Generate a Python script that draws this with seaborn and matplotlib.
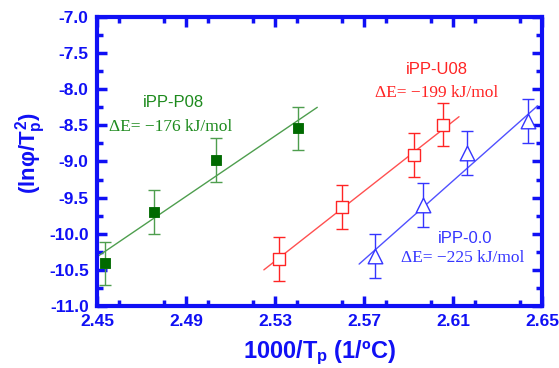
import numpy as np
import pandas as pd
import matplotlib
matplotlib.use("Agg")
import matplotlib.pyplot as plt
import seaborn as sns
from matplotlib.ticker import MultipleLocator

sns.set_style("ticks")
plt.rcParams['font.family'] = ['Liberation Sans', 'DejaVu Sans']
plt.rcParams['mathtext.fontset'] = 'custom'
plt.rcParams['mathtext.rm'] = 'Liberation Sans:bold'
plt.rcParams['mathtext.it'] = 'Liberation Sans:bold'
plt.rcParams['mathtext.bf'] = 'Liberation Sans:bold'

# 数据
p08_x = [2.4535, 2.4755, 2.5035, 2.5405]
p08_y = [-10.41, -9.70, -8.98, -8.54]
u08_x = [2.532, 2.560, 2.5925, 2.6055]
u08_y = [-10.35, -9.63, -8.91, -8.49]
ipp_x = [2.575, 2.5965, 2.6165, 2.6435]
ipp_y = [-10.31, -9.60, -8.88, -8.44]
err = 0.3

# 拟合线端点
p08_fit_x = [2.450, 2.549]
p08_fit_y = [-10.32, -8.25]
u08_fit_x = [2.525, 2.6127]
u08_fit_y = [-10.50, -8.38]
ipp_fit_x = [2.5678, 2.648]
ipp_fit_y = [-10.42, -8.23]

blue = '#1010f5'
green_m = '#006a00'
green_l = '#4e9e4e'
green_t = '#1d8a1d'
red = '#ff2424'
blue_d = '#3535ff'

fig = plt.figure(figsize=(5.59, 3.68), dpi=100)
ax = fig.add_axes([0.1735, 0.1685, 0.7961, 0.7853])

# 拟合线
sns.lineplot(x=p08_fit_x, y=p08_fit_y, color=green_l, lw=1, ax=ax)
sns.lineplot(x=u08_fit_x, y=u08_fit_y, color='#ff5050', lw=1, ax=ax)
sns.lineplot(x=ipp_fit_x, y=ipp_fit_y, color='#5050ff', lw=1, ax=ax)

# 误差线
ax.errorbar(p08_x, p08_y, yerr=err, fmt='none', ecolor=green_l, elinewidth=1, capsize=4, capthick=1)
ax.errorbar(u08_x, u08_y, yerr=err, fmt='none', ecolor=red, elinewidth=1, capsize=4, capthick=1)
ax.errorbar(ipp_x, ipp_y, yerr=err, fmt='none', ecolor=blue_d, elinewidth=1, capsize=4, capthick=1)

# 数据点
sns.scatterplot(x=p08_x, y=p08_y, marker='s', s=60, color=green_m, edgecolor=green_m, ax=ax, zorder=5)
sns.scatterplot(x=u08_x, y=u08_y, marker='s', s=70, facecolor='white', edgecolor=red, linewidth=1, ax=ax, zorder=5)
sns.scatterplot(x=ipp_x, y=ipp_y, marker='^', s=110, facecolor='white', edgecolor=blue_d, linewidth=1, ax=ax, zorder=5)

ax.set_xlim(2.45, 2.65)
ax.set_ylim(-11.0, -7.0)
ax.xaxis.set_minor_locator(MultipleLocator(0.02))
ax.yaxis.set_minor_locator(MultipleLocator(0.25))
ax.set_xticks([2.45, 2.49, 2.53, 2.57, 2.61, 2.65])
ax.set_xticklabels(['2.45', '2.49', '2.53', '2.57', '2.61', '2.65'])
ax.set_yticks(np.arange(-11.0, -6.99, 0.5))
ax.set_yticklabels([f'{v:.1f}' for v in np.arange(-11.0, -6.99, 0.5)])

for s in ax.spines.values():
    s.set_visible(True)
    s.set_color(blue)
    s.set_linewidth(3)
ax.tick_params(which='both', direction='in', top=True, right=True, color=blue,
               labelcolor=blue, labelsize=12.5, width=2.5, pad=6)
ax.tick_params(which='major', length=7)
ax.tick_params(which='minor', length=4)
for lab in ax.get_xticklabels() + ax.get_yticklabels():
    lab.set_fontweight('bold')

ax.set_xlabel(r'1000/$T_p$ (1/ºC)', fontsize=17, fontweight='bold', color=blue, labelpad=7)
ax.set_ylabel(r'(lnφ/$T_p^2$)', fontsize=16, fontweight='bold', color=blue)
ax.yaxis.set_label_coords(-0.11, 0.53)

# 标注
ax.text(2.4842, -8.19, 'iPP-P08', color=green_t, fontsize=12, ha='center', va='center')
ax.text(2.4555, -8.52, 'ΔE= −176 kJ/mol', color=green_t, fontsize=12.5, ha='left', va='center',
        family=['Liberation Serif', 'DejaVu Serif'])
ax.text(2.6028, -7.73, 'iPP-U08', color=red, fontsize=12, ha='center', va='center')
ax.text(2.6028, -8.05, 'ΔE= −199 kJ/mol', color=red, fontsize=12.5, ha='center', va='center',
        family=['Liberation Serif', 'DejaVu Serif'])
ax.text(2.6154, -10.07, 'iPP-0.0', color=blue_d, fontsize=12, ha='center', va='center')
ax.text(2.6145, -10.34, 'ΔE= −225 kJ/mol', color=blue_d, fontsize=12.5, ha='center', va='center',
        family=['Liberation Serif', 'DejaVu Serif'])

fig.savefig('out.png', dpi=100)
